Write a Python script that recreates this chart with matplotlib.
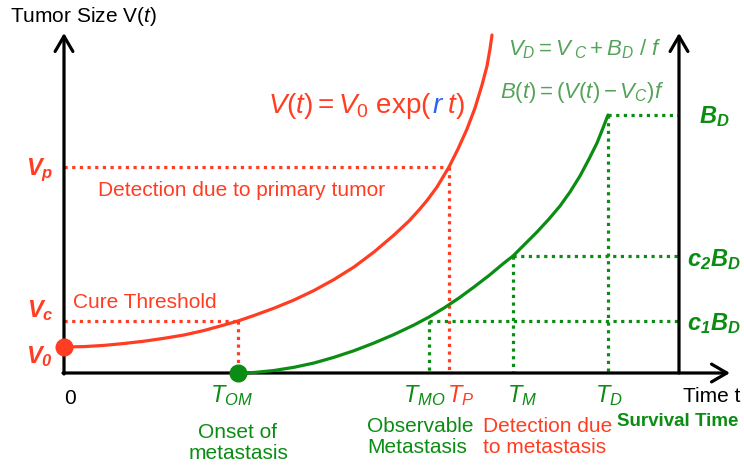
import matplotlib
matplotlib.use("Agg")
import matplotlib.pyplot as plt

plt.rcParams['font.family'] = ['Liberation Sans', 'DejaVu Sans']
plt.rcParams['mathtext.fontset'] = 'custom'
plt.rcParams['mathtext.rm'] = 'Liberation Sans'
plt.rcParams['mathtext.sf'] = 'Liberation Sans'
plt.rcParams['mathtext.it'] = 'Liberation Sans:italic'
plt.rcParams['mathtext.bf'] = 'Liberation Sans:bold:italic'

RED = '#ff3d22'
GREEN = '#0b8c12'
GREEN_LIGHT = '#55a35a'
BLUE = '#2a62f2'

# primary tumour size V(t)
t_primary = [0, 20, 40, 60, 80, 100, 120, 140, 160, 174, 190, 210, 230, 250,
             270, 290, 310, 330, 345, 355, 363, 373, 385, 394, 403, 411, 418,
             423, 426, 428]
v_primary = [26, 26.4, 27.6, 29.5, 31.8, 34.7, 38, 42.5, 48, 52, 57.5, 64.8,
             73, 82.5, 93.5, 106, 121, 138, 152, 163, 172.5, 186, 206, 224,
             244, 265, 288, 307, 324, 338]

# metastatic burden B(t)
t_meta = [174, 190, 210, 230, 250, 270, 290, 310, 330, 350, 365, 380, 395,
          410, 425, 440, 449, 460, 473, 485, 496, 506, 516, 525, 533, 539, 544]
b_meta = [0, 0.5, 2.5, 5.7, 10, 15.7, 22.3, 30, 38.5, 48, 56, 65, 75,
          86, 97.5, 110, 117, 128, 141, 154, 167, 181, 197, 214, 230, 245, 258]

# reference levels and times
V0, VC, VP = 26, 52, 206
T_OM, T_MO, T_P, T_M, T_D = 174, 365, 385, 449, 544
C1BD, C2BD, BD = 52, 117, 258
T_SURV = 615

fig = plt.figure(figsize=(7.44, 4.68), dpi=100, facecolor='white')
ax = fig.add_axes([0, 0, 1, 1])
ax.set_xlim(-64, 680)
ax.set_ylim(-95, 373)
ax.axis('off')

LW = 2.3
DOT = (0, (1, 1.4))

# axes with arrow heads
arrow = dict(arrowstyle='->,head_length=0.55,head_width=0.32', lw=LW,
             color='black', shrinkA=0, shrinkB=0, mutation_scale=20)
ax.annotate('', xy=(0, 340), xytext=(0, -1), arrowprops=arrow)
ax.annotate('', xy=(666, 0), xytext=(-1, 0), arrowprops=arrow)
ax.annotate('', xy=(T_SURV, 340), xytext=(T_SURV, 0), arrowprops=arrow)

# dotted guide lines
ax.plot([0, T_P], [VP, VP], color=RED, lw=LW, ls=DOT)
ax.plot([T_P, T_P], [VP, 0], color=RED, lw=LW, ls=DOT)
ax.plot([0, T_OM], [VC, VC], color=RED, lw=LW, ls=DOT)
ax.plot([T_OM, T_OM], [VC, 0], color=RED, lw=LW, ls=DOT)
for tx, lvl in [(T_MO, C1BD), (T_M, C2BD), (T_D, BD)]:
    ax.plot([tx, tx], [lvl, 0], color=GREEN, lw=LW, ls=DOT)
    ax.plot([tx, T_SURV], [lvl, lvl], color=GREEN, lw=LW, ls=DOT)

# growth curves
ax.plot(t_primary, v_primary, color=RED, lw=LW, solid_capstyle='round',
        solid_joinstyle='round', zorder=3)
ax.plot(t_meta, b_meta, color=GREEN, lw=LW, solid_capstyle='round',
        solid_joinstyle='round', zorder=3)
ax.plot([0], [V0], 'o', ms=12, color=RED, zorder=5, clip_on=False)
ax.plot([T_OM], [0], 'o', ms=12, color=GREEN, zorder=5, clip_on=False)

# axis titles
ax.text(-54, 356, r'Tumor Size V($t$)', fontsize=15, ha='left', va='center')
ax.text(619, -24, 'Time t', fontsize=15, ha='left', va='center')
ax.text(553, -49, 'Survival Time', fontsize=13.5, ha='left', va='center',
        color=GREEN, fontweight='bold')
ax.text(6, -25, '0', fontsize=15, ha='center', va='center')

# left level labels
for lab, yb in [(r'$\mathbf{V_p}$', 198), (r'$\mathbf{V_c}$', 56), (r'$\mathbf{V_0}$', 10)]:
    ax.text(-24, yb, lab, fontsize=17, color=RED, ha='center', va='baseline')

# right level labels
for lab, yb in [(r'$\mathbf{B_D}$', 250), (r'$\mathbf{c_2B_D}$', 107), (r'$\mathbf{c_1B_D}$', 43)]:
    ax.text(650, yb, lab, fontsize=17, color=GREEN, ha='center', va='baseline')

# time labels
for lab, xc, col in [(r'$T_{OM}$', 168, GREEN), (r'$T_{MO}$', 360, GREEN),
                     (r'$T_P$', 397, RED), (r'$T_M$', 458, GREEN),
                     (r'$T_D$', 545, GREEN)]:
    ax.text(xc, -29, lab, fontsize=17, color=col, ha='center', va='baseline')

# event annotations
ax.text(174, -70, 'Onset of\nmetastasis', fontsize=15, color=GREEN,
        ha='center', va='center', multialignment='center', linespacing=1.1)
ax.text(303, -64, 'Observable\nMetastasis', fontsize=15, color=GREEN,
        ha='left', va='center', multialignment='left', linespacing=1.1)
ax.text(419, -64, 'Detection due\nto metastasis', fontsize=15, color=RED,
        ha='left', va='center', multialignment='left', linespacing=1.1)
ax.text(34, 182, 'Detection due to primary tumor', fontsize=15, color=RED,
        ha='left', va='center')
ax.text(9, 71, 'Cure Threshold', fontsize=15, color=RED, ha='left', va='center')

# growth law of the primary tumour
f1 = ax.text(204, 260, r'$V(t) = V_0\ \mathrm{exp}($', color=RED, fontsize=20,
             ha='left', va='baseline')
f2 = ax.annotate(r'$r$', xy=(1, 260), xycoords=(f1, 'data'), color=BLUE,
                 fontsize=20, ha='left', va='baseline')
ax.annotate(r'$\,t)$', xy=(1, 260), xycoords=(f2, 'data'), color=RED,
            fontsize=20, ha='left', va='baseline')

# metastatic burden relations
ax.text(521, 318, r'$V_D = V_{\ C} + B_D\ /\ f$', color=GREEN_LIGHT, fontsize=16,
        ha='center', va='baseline')
ax.text(518, 275, r'$B(t) = (V(t) - V_C)f$', color=GREEN_LIGHT, fontsize=16,
        ha='center', va='baseline')

fig.savefig('out.png', dpi=100, facecolor='white')
